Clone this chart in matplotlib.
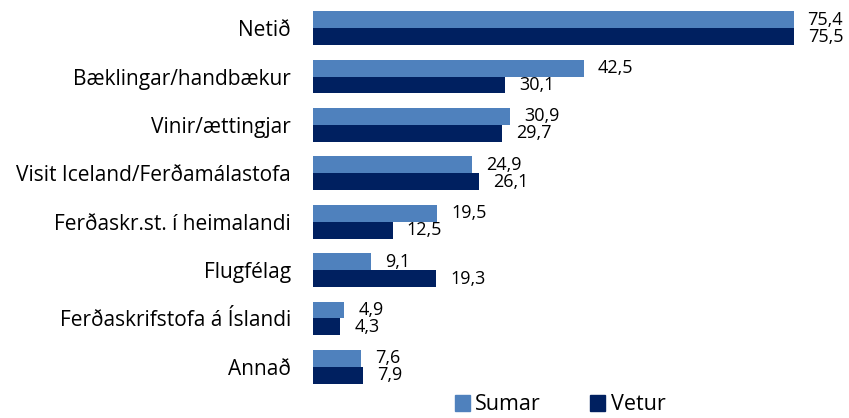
import numpy as np
import matplotlib
matplotlib.use("Agg")
import matplotlib.pyplot as plt
from matplotlib.patches import Patch

# Gögn lesin af myndinni
flokkar = ["Netið", "Bæklingar/handbækur", "Vinir/ættingjar",
           "Visit Iceland/Ferðamálastofa", "Ferðaskr.st. í heimalandi",
           "Flugfélag", "Ferðaskrifstofa á Íslandi", "Annað"]
sumar = [75.4, 42.5, 30.9, 24.9, 19.5, 9.1, 4.9, 7.6]
vetur = [75.5, 30.1, 29.7, 26.1, 12.5, 19.3, 4.3, 7.9]

litur_sumar = "#4F81BD"
litur_vetur = "#002060"

plt.rcParams["font.family"] = ["Open Sans", "DejaVu Sans"]

fig = plt.figure(figsize=(8.49, 4.18), dpi=100)
ax = fig.add_axes([313 / 849, 1 - 391 / 418, (823 - 313) / 849, (391 - 4) / 418])

y = np.arange(len(flokkar))
h = 0.35
b1 = ax.barh(y - h / 2, sumar, height=h, color=litur_sumar)
b2 = ax.barh(y + h / 2, vetur, height=h, color=litur_vetur)

fmt = lambda v: f"{v:.1f}".replace(".", ",")
ax.bar_label(b1, labels=[fmt(v) for v in sumar], padding=10, fontsize=13)
ax.bar_label(b2, labels=[fmt(v) for v in vetur], padding=10, fontsize=13)

ax.set_xlim(0, 80)
ax.set_ylim(len(flokkar) - 0.5, -0.5)
ax.set_yticks(y)
ax.set_yticklabels(flokkar, fontsize=15)
ax.tick_params(axis="y", length=0, pad=16)
ax.set_xticks([])
for s in ax.spines.values():
    s.set_visible(False)

handles = [Patch(color=litur_sumar, label="Sumar"),
           Patch(color=litur_vetur, label="Vetur")]
fig.legend(handles=handles, loc="center", bbox_to_anchor=(560 / 849, 1 - 405 / 418),
           ncol=2, frameon=False, fontsize=15.5, handlelength=0.7, handleheight=0.7,
           handletextpad=0.25, columnspacing=2.3, borderpad=0)

fig.savefig("out.png", dpi=100)
